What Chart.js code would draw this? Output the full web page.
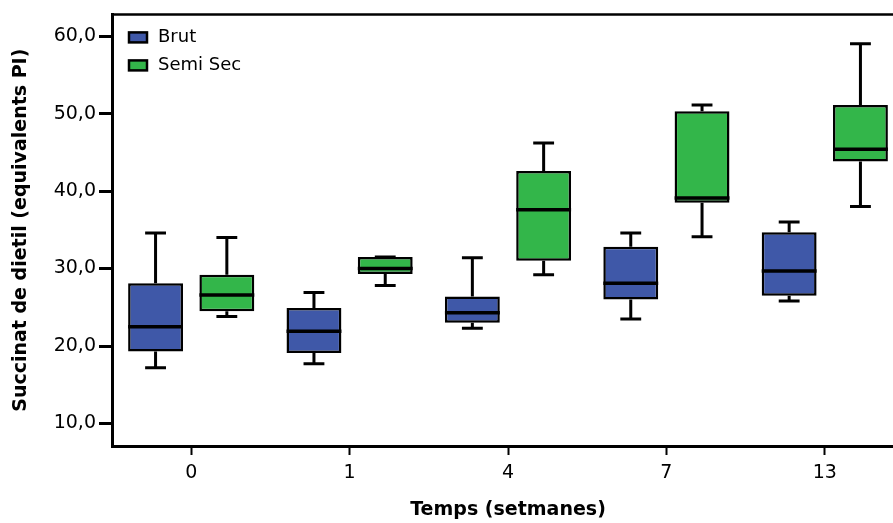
<!DOCTYPE html>
<html lang="ca">
<head>
<meta charset="UTF-8">
<title>Succinat de dietil</title>
<script src="https://cdn.jsdelivr.net/npm/chart.js"></script>
<style>
  html, body { margin: 0; padding: 0; overflow: hidden; background: #fff; }
  .box { position: relative; width: 906px; height: 523px; }
</style>
</head>
<body>
<div class="box"><canvas id="grafic"></canvas></div>
<script>
// setmanes
const categories = ['0', '1', '4', '7', '13'];
const yTicks = [10, 20, 30, 40, 50, 60];

// Brut
const brutMin = [17.2, 17.7, 22.3, 23.5, 25.8];
const brutQ1  = [19.3, 19.1, 23.0, 26.0, 26.5];
const brutMed = [22.5, 21.9, 24.3, 28.1, 29.7];
const brutQ3  = [28.1, 24.9, 26.4, 32.8, 34.7];
const brutMax = [34.6, 26.9, 31.4, 34.6, 36.0];

// Semi Sec
const semiMin = [23.8, 27.8, 29.2, 34.1, 38.0];
const semiQ1  = [24.5, 29.3, 31.0, 38.5, 43.8];
const semiMed = [26.6, 30.0, 37.6, 39.1, 45.4];
const semiQ3  = [29.2, 31.5, 42.6, 50.3, 51.1];
const semiMax = [34.0, 31.5, 46.2, 51.1, 59.0];

const stats = [
  { min: brutMin, med: brutMed, max: brutMax },
  { min: semiMin, med: semiMed, max: semiMax }
];

Chart.defaults.font.family = '"DejaVu Sans", Verdana, sans-serif';
Chart.defaults.color = '#000';

// bigotis, mediana, marc superior i llegenda dins del gràfic
const bigotis = {
  id: 'bigotis',
  afterDatasetsDraw(chart) {
    const ctx = chart.ctx;
    const y = chart.scales.y;
    ctx.save();
    ctx.strokeStyle = '#000';
    chart.data.datasets.forEach((ds, i) => {
      const meta = chart.getDatasetMeta(i);
      meta.data.forEach((bar, j) => {
        const w = bar.width;
        const x = bar.x;
        const s = stats[i];
        const top = y.getPixelForValue(ds.data[j][1]);
        const bot = y.getPixelForValue(ds.data[j][0]);
        const yMax = y.getPixelForValue(s.max[j]);
        const yMin = y.getPixelForValue(s.min[j]);
        const cap = w * 0.38;
        ctx.lineWidth = 3;
        ctx.beginPath();
        ctx.moveTo(x, top); ctx.lineTo(x, yMax);
        ctx.moveTo(x - cap / 2, yMax); ctx.lineTo(x + cap / 2, yMax);
        ctx.moveTo(x, bot); ctx.lineTo(x, yMin);
        ctx.moveTo(x - cap / 2, yMin); ctx.lineTo(x + cap / 2, yMin);
        ctx.stroke();
        // mediana
        const ym = y.getPixelForValue(s.med[j]);
        ctx.lineWidth = 3.5;
        ctx.beginPath();
        ctx.moveTo(x - w / 2, ym); ctx.lineTo(x + w / 2, ym);
        ctx.stroke();
      });
    });
    const a = chart.chartArea;
    ctx.lineWidth = 2.5;
    ctx.beginPath();
    ctx.moveTo(a.left, a.top); ctx.lineTo(a.right, a.top);
    ctx.stroke();

    // llegenda
    ctx.font = '18px "DejaVu Sans", Verdana, sans-serif';
    ctx.textBaseline = 'middle';
    ctx.textAlign = 'left';
    chart.data.datasets.forEach((ds, i) => {
      const cy = a.top + 23 + i * 28;
      ctx.fillStyle = ds.backgroundColor;
      ctx.fillRect(a.left + 17, cy - 5, 18, 10);
      ctx.lineWidth = 2.5;
      ctx.strokeRect(a.left + 17, cy - 5, 18, 10);
      ctx.fillStyle = '#000';
      ctx.fillText(ds.label, a.left + 46, cy);
    });
    ctx.restore();
  }
};

const ctx = document.getElementById('grafic').getContext('2d');
new Chart(ctx, {
  type: 'bar',
  data: {
    labels: categories,
    datasets: [{
      label: 'Brut',
      data: brutQ1.map((v, i) => [v, brutQ3[i]]),
      backgroundColor: '#3F58A8',
      borderColor: '#000',
      borderWidth: 2.5,
      borderSkipped: false
    }, {
      label: 'Semi Sec',
      data: semiQ1.map((v, i) => [v, semiQ3[i]]),
      backgroundColor: '#33B64A',
      borderColor: '#000',
      borderWidth: 2.5,
      borderSkipped: false
    }]
  },
  options: {
    responsive: true,
    maintainAspectRatio: false,
    animation: false,
    categoryPercentage: 0.9,
    barPercentage: 0.77,
    layout: { padding: { top: 13, right: 2, left: 0, bottom: 0 } },
    plugins: {
      legend: { display: false },
      tooltip: { enabled: false }
    },
    scales: {
      x: {
        grid: {
          offset: false,
          drawOnChartArea: false,
          drawTicks: true,
          tickLength: 9,
          tickWidth: 2,
          tickColor: '#000'
        },
        border: { display: true, color: '#000', width: 3 },
        ticks: { font: { size: 19 }, padding: 7, color: '#000' },
        title: {
          display: true,
          text: 'Temps (setmanes)',
          font: { size: 19, weight: 'bold' },
          padding: { top: 0, bottom: 2 }
        },
        afterFit(scale) { scale.height = 77; }
      },
      y: {
        min: 7.1,
        max: 62.8,
        afterBuildTicks(scale) { scale.ticks = yTicks.map(v => ({ value: v })); },
        grid: {
          drawOnChartArea: false,
          drawTicks: true,
          tickLength: 13,
          tickWidth: 3,
          tickColor: '#000'
        },
        border: { display: true, color: '#000', width: 3 },
        ticks: {
          font: { size: 19 },
          padding: 3,
          color: '#000',
          callback: v => v.toFixed(1).replace('.', ',')
        },
        title: {
          display: true,
          text: 'Succinat de dietil (equivalents PI)',
          font: { size: 19, weight: 'bold' },
          padding: { top: 10, bottom: 0 }
        },
        afterFit(scale) { scale.width = 112; }
      }
    }
  },
  plugins: [bigotis]
});
</script>
</body>
</html>
